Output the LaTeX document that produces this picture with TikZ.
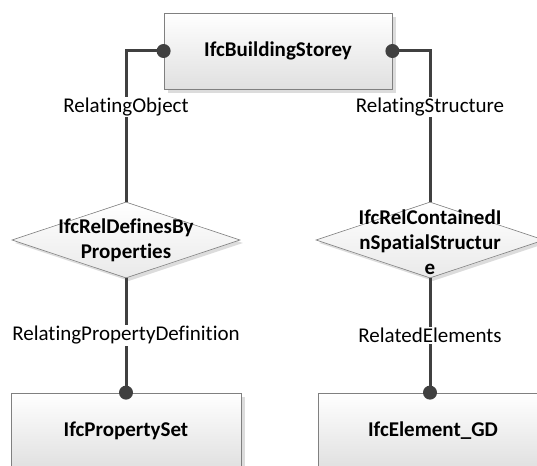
\documentclass[tikz,border=0pt]{standalone}
\usepackage{fontspec}
\setmainfont[Ligatures={NoCommon,NoRare,NoDiscretionary}]{Carlito}
\usetikzlibrary{shapes.geometric,shadows}
\definecolor{linkgray}{HTML}{404040}
\definecolor{edgegray}{HTML}{808080}
\definecolor{fillgray}{HTML}{E0E0E0}
\definecolor{shadegray}{HTML}{DCDCDC}
\begin{document}
\begin{tikzpicture}[x=1pt,y=-1pt,
  entity/.style={rectangle,draw=edgegray,line width=0.8pt,
    top color=white,bottom color=fillgray,
    minimum width=228pt,minimum height=76pt,inner sep=0pt,
    font=\fontsize{21}{25}\selectfont\bfseries,
    drop shadow={shadow xshift=4pt,shadow yshift=-4pt,fill=shadegray,opacity=1}},
  relation/.style={diamond,draw=edgegray,line width=0.6pt,
    top color=white,bottom color=fillgray!70,
    minimum width=228pt,minimum height=76pt,inner sep=0pt,
    drop shadow={shadow xshift=3pt,shadow yshift=-3pt,fill=shadegray,opacity=1}},
  rellabel/.style={font=\fontsize{21}{25}\selectfont\bfseries,align=center},
  link/.style={draw=linkgray,line width=3pt},
  role/.style={fill=white,inner sep=1pt,font=\fontsize{21}{25}\selectfont},
  knob/.style={fill=linkgray}
]
\useasboundingbox (0,0) rectangle (537,465);
\clip (0,0) rectangle (537,465);

% entities and relations
\node[entity] (storey) at (278,51) {IfcBuildingStorey};
\node[relation,label={[rellabel]center:{IfcRelDefinesBy\\Properties}}] (defines) at (126,240) {};
\node[relation,label={[rellabel,yshift=-2pt]center:{IfcRelContainedI\\nSpatialStructur\\e}}] (contained) at (430,240) {};
\node[entity,minimum width=230pt] (pset) at (126,431) {IfcPropertySet};
\node[entity,minimum width=230pt] (element) at (433,431) {IfcElement\_GD};

% connectors with their role names
\draw[link] (storey.west) -| node[role,pos=0.685] (ro) {RelatingObject} (defines.north);
\draw[link] (storey.east) -| node[role,pos=0.685] (rs) {RelatingStructure} (contained.north);
\draw[link] (defines.south) -- node[role,pos=0.5] (rpd) {RelatingPropertyDefinition} (pset.north);
\draw[link] (contained.south) -- node[role,pos=0.5] (re) {RelatedElements} (contained.south |- element.north);

% end points
\fill[knob] (storey.west) circle (7);
\fill[knob] (storey.east) circle (7);
\fill[knob] (pset.north) circle (7);
\fill[knob] (contained.south |- element.north) circle (7);
\end{tikzpicture}
\end{document}
